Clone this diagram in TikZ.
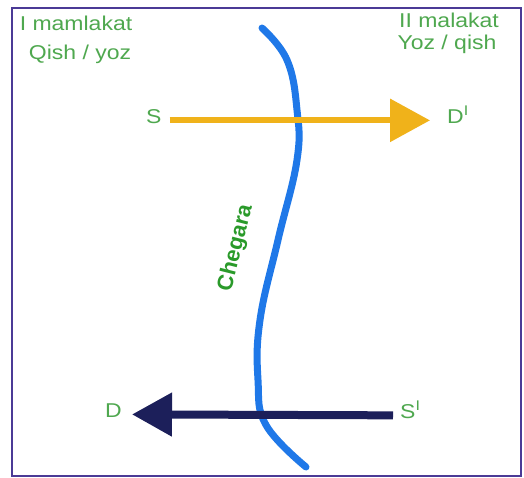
\documentclass[tikz,border=0pt]{standalone}
\usepackage{fontspec}
\setmainfont[FakeStretch=1.15]{Liberation Sans}
\newfontfamily\chegfont{Liberation Sans}
\usetikzlibrary{arrows.meta}
\definecolor{framepurple}{HTML}{4B3A96}
\definecolor{labelgreen}{HTML}{4FA84F}
\definecolor{chegreen}{HTML}{2A9A2A}
\definecolor{bordblue}{HTML}{1F78E8}
\definecolor{exportorange}{HTML}{F0B21A}
\definecolor{importnavy}{HTML}{1C1F5A}
\begin{document}
\begin{tikzpicture}[x=1pt,y=1pt,every node/.style={font=\fontsize{20}{24}\selectfont,text=labelgreen,inner sep=0pt}]
\useasboundingbox (0,0) rectangle (524,-477);
\fill[white] (0,0) rectangle (524,-477);
\draw[line width=2pt,framepurple] (12,-8) rectangle (521,-476);
% country labels
\node[anchor=base] (homeA) at (76,-30) {I mamlakat};
\node[anchor=base] (seasonA) at (80,-59) {Qish / yoz};
\node[anchor=base] (homeB) at (449,-27) {II malakat};
\node[anchor=base] (seasonB) at (447,-49) {Yoz / qish};
% the border
\draw[line width=7pt,bordblue,line cap=round] plot[smooth,tension=0.7] coordinates {(262,-28) (287,-60) (297,-110) (297,-160) (278,-240) (260,-320) (258,-380) (266,-425) (306,-467)};
\node[rotate=76,font=\chegfont\bfseries\fontsize{22}{26}\selectfont,text=chegreen] (chegara) at (236,-248) {Chegara};
% supply and demand
\node[anchor=base west] (s) at (146,-123) {S};
\node[anchor=base west] (dI) at (447,-123) {D\textsuperscript{I}};
\node[anchor=base west] (d) at (105,-417) {D};
\node[anchor=base west] (sI) at (400,-418) {S\textsuperscript{I}};
\draw[line width=6pt,exportorange,-{Triangle[length=40pt,width=42pt]},shorten <=8pt,shorten >=17pt] (s.mid east) -- (dI.mid west);
\draw[line width=8pt,importnavy,-{Triangle[length=40pt,width=42pt]},shorten <=7pt,shorten >=10pt] (sI.mid west) -- (d.mid east);
\end{tikzpicture}
\end{document}
